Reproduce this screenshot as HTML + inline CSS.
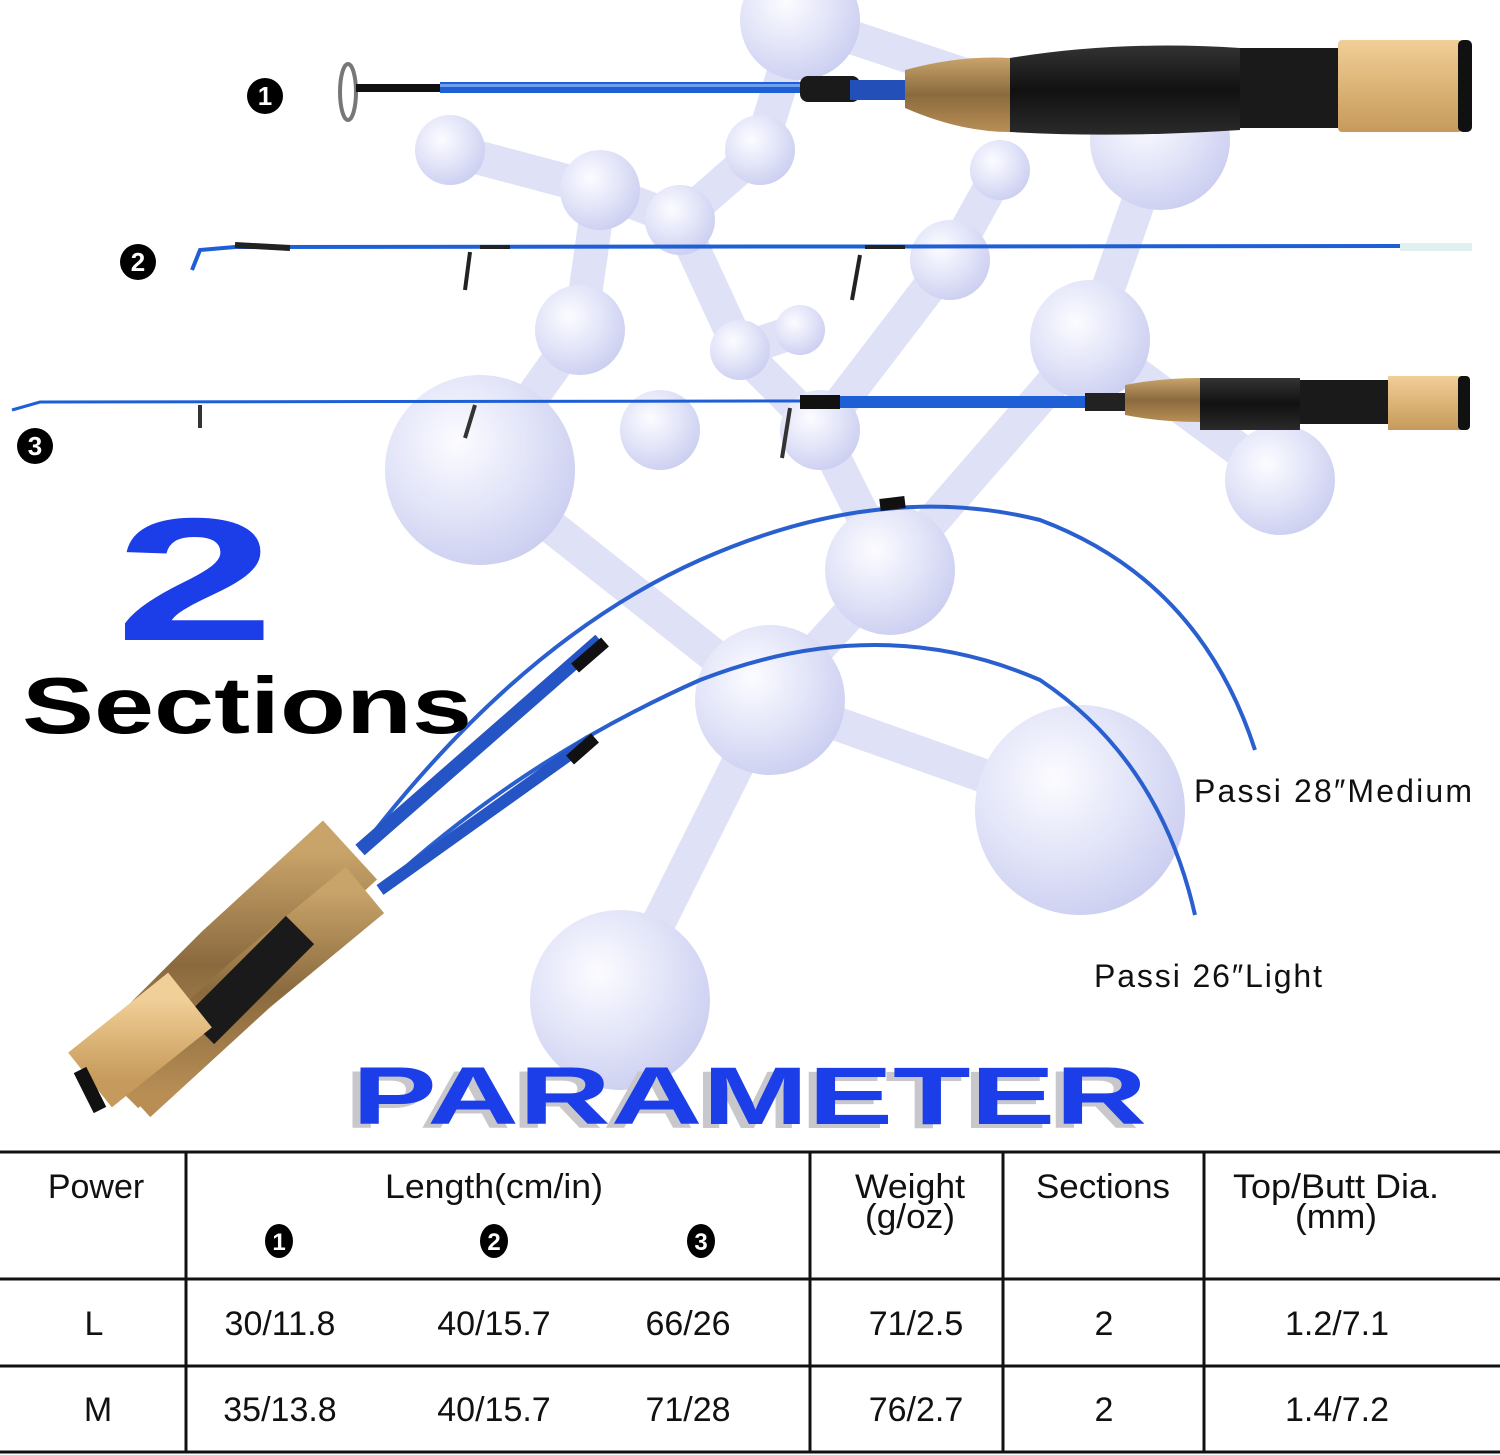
<!DOCTYPE html>
<html><head><meta charset="utf-8"><style>html,body{margin:0;padding:0;background:#fff}svg{display:block}</style></head>
<body>
<svg width="1500" height="1455" viewBox="0 0 1500 1455" xmlns="http://www.w3.org/2000/svg" font-family="Liberation Sans, sans-serif">
<defs>
<radialGradient id="ball" cx="0.38" cy="0.35" r="0.7">
<stop offset="0" stop-color="#fcfcff"/><stop offset="0.5" stop-color="#e4e6f9"/><stop offset="1" stop-color="#cbcef0"/></radialGradient>
<linearGradient id="cork" x1="0" y1="0" x2="0" y2="1"><stop offset="0" stop-color="#c9a46a"/><stop offset="0.5" stop-color="#8a6a3e"/><stop offset="1" stop-color="#b88e55"/></linearGradient>
<linearGradient id="cork2" x1="0" y1="0" x2="0" y2="1"><stop offset="0" stop-color="#f0cf98"/><stop offset="0.5" stop-color="#dcb477"/><stop offset="1" stop-color="#c69a5c"/></linearGradient>
<linearGradient id="blk" x1="0" y1="0" x2="0" y2="1"><stop offset="0" stop-color="#333"/><stop offset="0.5" stop-color="#111"/><stop offset="1" stop-color="#2a2a2a"/></linearGradient>
</defs>
<rect width="1500" height="1455" fill="#fff"/>
<g stroke="#dfe1f7" stroke-width="34" stroke-linecap="round" fill="none">
<path d="M480 470 L770 700 L1080 810"/><path d="M770 700 L620 1000"/><path d="M770 700 L890 570 L1090 340 L1160 140 L800 20"/>
<path d="M890 570 L820 430 L740 350"/><path d="M1090 340 L1280 480"/><path d="M600 190 L580 330 L480 470"/>
<path d="M450 150 L600 190 L680 220 L760 150 L800 20"/><path d="M680 220 L740 350 L800 330"/><path d="M950 260 L1000 170"/><path d="M820 430 L950 260"/>
</g>
<g fill="url(#ball)">
<circle cx="480" cy="470" r="95"/><circle cx="1080" cy="810" r="105"/><circle cx="620" cy="1000" r="90"/>
<circle cx="770" cy="700" r="75"/><circle cx="890" cy="570" r="65"/><circle cx="1090" cy="340" r="60"/>
<circle cx="580" cy="330" r="45"/><circle cx="1280" cy="480" r="55"/><circle cx="1160" cy="140" r="70"/>
<circle cx="800" cy="20" r="60"/><circle cx="450" cy="150" r="35"/><circle cx="600" cy="190" r="40"/>
<circle cx="680" cy="220" r="35"/><circle cx="760" cy="150" r="35"/><circle cx="740" cy="350" r="30"/>
<circle cx="800" cy="330" r="25"/><circle cx="820" cy="430" r="40"/><circle cx="950" cy="260" r="40"/><circle cx="1000" cy="170" r="30"/><circle cx="660" cy="430" r="40"/>
</g>
<!-- rod 1 -->
<ellipse cx="348" cy="92" rx="8" ry="28" fill="none" stroke="#777" stroke-width="4"/>
<rect x="356" y="84" width="90" height="8" fill="#111"/>
<rect x="440" y="82" width="370" height="11" fill="#1f5fd6"/>
<rect x="440" y="84" width="370" height="3" fill="#6fa0f0"/>
<rect x="800" y="76" width="60" height="26" rx="8" fill="#1a1a1a"/>
<rect x="850" y="80" width="60" height="20" fill="#2350b8"/>
<path d="M905 70 Q960 55 1010 58 L1010 132 Q960 132 905 108Z" fill="url(#cork)"/>
<path d="M1010 58 Q1120 40 1240 48 L1240 130 Q1120 138 1010 132Z" fill="url(#blk)"/>
<rect x="1240" y="48" width="100" height="80" fill="#1a1a1a"/>
<rect x="1338" y="40" width="124" height="92" rx="4" fill="url(#cork2)"/>
<rect x="1458" y="40" width="14" height="92" rx="5" fill="#111"/>
<!-- rod 2 -->
<path d="M192 270 L200 250 L235 247 L1400 246" stroke="#1f5fd6" stroke-width="4" fill="none"/>
<path d="M235 245 L290 248" stroke="#222" stroke-width="6"/>
<rect x="1400" y="243" width="72" height="8" fill="#dff0ee"/>
<path d="M480 247 L510 247 M470 252 L465 290" stroke="#222" stroke-width="4"/>
<path d="M865 247 L905 247 M860 255 L852 300" stroke="#222" stroke-width="4"/>
<!-- rod 3 -->
<path d="M12 410 L40 402 L800 401" stroke="#1f5fd6" stroke-width="3" fill="none"/>
<rect x="800" y="396" width="320" height="12" fill="#1f5fd6"/>
<rect x="800" y="395" width="40" height="14" fill="#111"/>
<rect x="1085" y="393" width="45" height="18" fill="#222"/>
<path d="M200 405 L200 428 M475 405 L465 438 M790 408 L782 458" stroke="#333" stroke-width="4"/>
<path d="M1125 385 Q1160 378 1200 378 L1200 422 Q1160 422 1125 415Z" fill="url(#cork)"/>
<path d="M1200 378 L1300 378 L1300 430 L1200 430Z" fill="url(#blk)"/>
<rect x="1300" y="380" width="90" height="44" fill="#1a1a1a"/>
<rect x="1388" y="376" width="75" height="54" fill="url(#cork2)"/>
<rect x="1458" y="376" width="12" height="54" rx="4" fill="#111"/>
<!-- bent rods -->
<path d="M360 850 Q520 640 700 560 Q880 480 1040 520 Q1200 580 1255 750" stroke="#2a5fd0" stroke-width="4" fill="none"/>
<path d="M380 890 Q520 760 700 680 Q880 610 1040 680 Q1160 760 1195 915" stroke="#2a5fd0" stroke-width="4" fill="none"/>
<path d="M360 850 L600 640" stroke="#2555c4" stroke-width="14"/>
<path d="M380 890 L590 740" stroke="#2555c4" stroke-width="12"/>
<path d="M575 668 L605 642 M570 760 L595 738 M880 505 L905 502" stroke="#111" stroke-width="12"/>
<path d="M110 1080 L230 960 L350 850" stroke="url(#cork)" stroke-width="80" fill="none"/>
<path d="M130 1095 L250 985 L365 890" stroke="url(#cork)" stroke-width="60" fill="none"/>
<path d="M200 1030 L300 930" stroke="#1a1a1a" stroke-width="40"/>
<path d="M90 1080 L190 1000" stroke="url(#cork2)" stroke-width="70"/>
<path d="M80 1070 L100 1110" stroke="#111" stroke-width="14"/>
<g font-weight="bold" font-size="26" text-anchor="middle">
<circle cx="265" cy="96" r="18" fill="#000"/><text x="265" y="105" fill="#fff">1</text>
<circle cx="138" cy="262" r="18" fill="#000"/><text x="138" y="271" fill="#fff">2</text>
<circle cx="35" cy="446" r="18" fill="#000"/><text x="35" y="455" fill="#fff">3</text>
</g>
<text x="115" y="640" font-size="175" font-weight="bold" fill="#1b3ee8" textLength="160" lengthAdjust="spacingAndGlyphs">2</text>
<text x="22" y="733" font-size="80" font-weight="bold" fill="#000" textLength="450" lengthAdjust="spacingAndGlyphs">Sections</text>
<text x="1194" y="802" font-size="32" fill="#111" textLength="278">Passi 28″Medium</text>
<text x="1094" y="987" font-size="32" fill="#111" textLength="228">Passi 26″Light</text>
<text x="344" y="1128" font-size="82" font-weight="bold" fill="#c8c8cc" textLength="795" lengthAdjust="spacingAndGlyphs">PARAMETER</text>
<text x="352" y="1124" font-size="82" font-weight="bold" fill="#1b3ee8" textLength="795" lengthAdjust="spacingAndGlyphs">PARAMETER</text>
<g stroke="#111" stroke-width="3">
<line x1="0" y1="1152" x2="1500" y2="1152"/><line x1="0" y1="1279" x2="1500" y2="1279"/>
<line x1="0" y1="1366" x2="1500" y2="1366"/><line x1="0" y1="1452" x2="1500" y2="1452"/>
<line x1="186" y1="1152" x2="186" y2="1452"/><line x1="810" y1="1152" x2="810" y2="1452"/>
<line x1="1003" y1="1152" x2="1003" y2="1452"/><line x1="1204" y1="1152" x2="1204" y2="1452"/>
</g>
<g font-size="34" fill="#111" text-anchor="middle">
<text x="96" y="1198">Power</text>
<text x="494" y="1198" textLength="218" lengthAdjust="spacingAndGlyphs">Length(cm/in)</text>
<text x="910" y="1198" textLength="110" lengthAdjust="spacingAndGlyphs">Weight</text>
<text x="910" y="1228" textLength="90" lengthAdjust="spacingAndGlyphs">(g/oz)</text>
<text x="1103" y="1198" textLength="134" lengthAdjust="spacingAndGlyphs">Sections</text>
<text x="1336" y="1198" textLength="206" lengthAdjust="spacingAndGlyphs">Top/Butt Dia.</text>
<text x="1336" y="1228" textLength="82" lengthAdjust="spacingAndGlyphs">(mm)</text>
<text x="94" y="1335">L</text><text x="280" y="1335">30/11.8</text><text x="494" y="1335">40/15.7</text><text x="688" y="1335">66/26</text><text x="916" y="1335">71/2.5</text><text x="1104" y="1335">2</text><text x="1337" y="1335">1.2/7.1</text>
<text x="98" y="1421">M</text><text x="280" y="1421">35/13.8</text><text x="494" y="1421">40/15.7</text><text x="688" y="1421">71/28</text><text x="916" y="1421">76/2.7</text><text x="1104" y="1421">2</text><text x="1337" y="1421">1.4/7.2</text>
</g>
<g font-weight="bold" font-size="24" text-anchor="middle">
<ellipse cx="279" cy="1241" rx="14" ry="17" fill="#000"/><text x="279" y="1250" fill="#fff">1</text>
<ellipse cx="494" cy="1241" rx="14" ry="17" fill="#000"/><text x="494" y="1250" fill="#fff">2</text>
<ellipse cx="701" cy="1241" rx="14" ry="17" fill="#000"/><text x="701" y="1250" fill="#fff">3</text>
</g>
</svg>
</body></html>
